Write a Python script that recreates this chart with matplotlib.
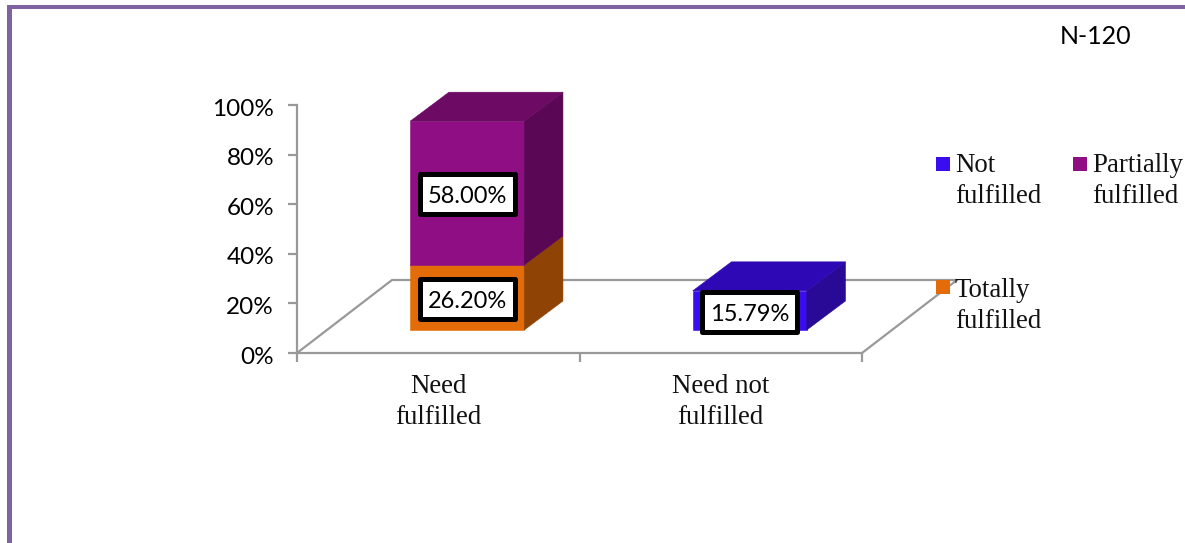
import matplotlib
matplotlib.use('Agg')
import matplotlib.pyplot as plt
from matplotlib.patches import Polygon, Rectangle
from matplotlib.transforms import ScaledTranslation

# values
categories = ['Need\nfulfilled', 'Need not\nfulfilled']
series_names = ['Totally\nfulfilled', 'Partially\nfulfilled', 'Not\nfulfilled']
totally = [26.20, 0]
partially = [58.00, 0]
not_fulfilled = [0, 15.79]
y_ticks = [0, 20, 40, 60, 80, 100]

front = {'Totally': '#E36C09', 'Partially': '#8F0E84', 'Not': '#3A0CF0'}
top = {'Totally': '#B05407', 'Partially': '#6C0A64', 'Not': '#2E08B4'}
side = {'Totally': '#8F4405', 'Partially': '#5A0855', 'Not': '#280A96'}

W, H = 1185, 543
GREY = '#999999'
SERIF = 'Liberation Serif'
SANS = 'Lato'

fig = plt.figure(figsize=(W / 100, H / 100), dpi=100, facecolor='white')

# frame around the chart, cut by the image edge
fig.add_artist(Rectangle((7 / W, -0.1), 5 / W, 1.1 - 5 / H, transform=fig.transFigure,
                         fc='#8064A2', ec='none'))
fig.add_artist(Rectangle((7 / W, 1 - 9 / H), 1, 4 / H, transform=fig.transFigure,
                         fc='#8064A2', ec='none'))

# axes box = front plane of the 3D chart
ax = fig.add_axes([297 / W, 1 - 353 / H, 565 / W, 248 / H])
ax.set_xlim(0, 2)
ax.set_ylim(0, 100)
ax.patch.set_visible(False)
for name in ['top', 'right']:
    ax.spines[name].set_visible(False)
for name in ['left', 'bottom']:
    ax.spines[name].set_color(GREY)
    ax.spines[name].set_linewidth(1.6)
ax.set_yticks(y_ticks)
ax.set_yticklabels([f'{t}%' for t in y_ticks], fontsize=17.5, family=SANS, color='black')
ax.set_xticks([0, 1, 2])
ax.set_xticklabels([])
ax.tick_params(axis='both', length=6.5, width=1.6, color=GREY)
ax.tick_params(axis='y', pad=10)
# tick text sits a little under the tick in the original
nudge = ScaledTranslation(0, -2 / 100, fig.dpi_scale_trans)
for lab in ax.get_yticklabels():
    lab.set_transform(lab.get_transform() + nudge)

# floor of the chart
floor_dx, floor_dy = 95 / 282.5, 73 / 2.48
ax.plot([0, floor_dx, 2 + floor_dx, 2], [0, floor_dy, floor_dy, 0], color=GREY, lw=1.6,
        clip_on=False, zorder=1)

# bar geometry in data units
bar_w = 114 / 282.5
shift = 29 / 282.5
lift = 23 / 2.48
dx, dy = 38.7 / 282.5, 29 / 2.48
box_w, box_h = 95 / 282.5, 40 / 2.48


def draw_box(x, start, height, key):
    x0 = x + shift - bar_w / 2
    x1 = x0 + bar_w
    y0 = lift + start
    y1 = y0 + height
    ax.add_patch(Rectangle((x0, y0), bar_w, height, fc=front[key], ec=front[key], lw=0.4,
                           zorder=3, clip_on=False))
    ax.add_patch(Polygon([(x1, y0), (x1 + dx, y0 + dy), (x1 + dx, y1 + dy), (x1, y1)],
                         fc=side[key], ec=side[key], lw=0.4, zorder=3, clip_on=False))
    ax.add_patch(Polygon([(x0, y1), (x1, y1), (x1 + dx, y1 + dy), (x0 + dx, y1 + dy)],
                         fc=top[key], ec=top[key], lw=0.4, zorder=3, clip_on=False))


def draw_label(x, start, height):
    cx = x + shift
    cy = lift + start + height / 2 - 0.5
    ax.add_patch(Rectangle((cx - box_w / 2, cy - box_h / 2), box_w, box_h, fc='white', ec='black',
                           lw=3.6, joinstyle='round', zorder=4, clip_on=False))
    ax.text(cx, cy - 1.0, f'{height:.2f}%', ha='center', va='center',
            fontsize=17, family=SANS, color='black', zorder=5)


for i in range(len(categories)):
    base = 0
    for vals, key in [(totally, 'Totally'), (partially, 'Partially'), (not_fulfilled, 'Not')]:
        if vals[i] > 0:
            draw_box(i + 0.5, base, vals[i], key)
            base += vals[i]
    base = 0
    for vals in [totally, partially, not_fulfilled]:
        if vals[i] > 0:
            draw_label(i + 0.5, base, vals[i])
            base += vals[i]
    ax.text(i + 0.5, -8.4, categories[i], ha='center', va='top', fontsize=19.4, family=SERIF,
            color='#111111', linespacing=1.3)

# legend, laid out by hand like the original
legend_items = [(936, 157, 153, 'Not', series_names[2]), (1073, 157, 153, 'Partially', series_names[1]),
                (936, 280, 278, 'Totally', series_names[0])]
for px, py, ty, key, label in legend_items:
    fig.add_artist(Rectangle((px / W, 1 - (py + 14) / H), 14 / W, 14 / H, transform=fig.transFigure,
                             fc=front[key], ec='none', zorder=6))
    fig.text((px + 19) / W, 1 - ty / H, label, ha='left', va='top', fontsize=19.4,
             family=SERIF, color='#111111', linespacing=1.3, zorder=6)

fig.text(1096 / W, 1 - 37 / H, 'N-120', ha='center', va='center', fontsize=18, family=SANS, color='black')

fig.savefig('out.png', dpi=100)
